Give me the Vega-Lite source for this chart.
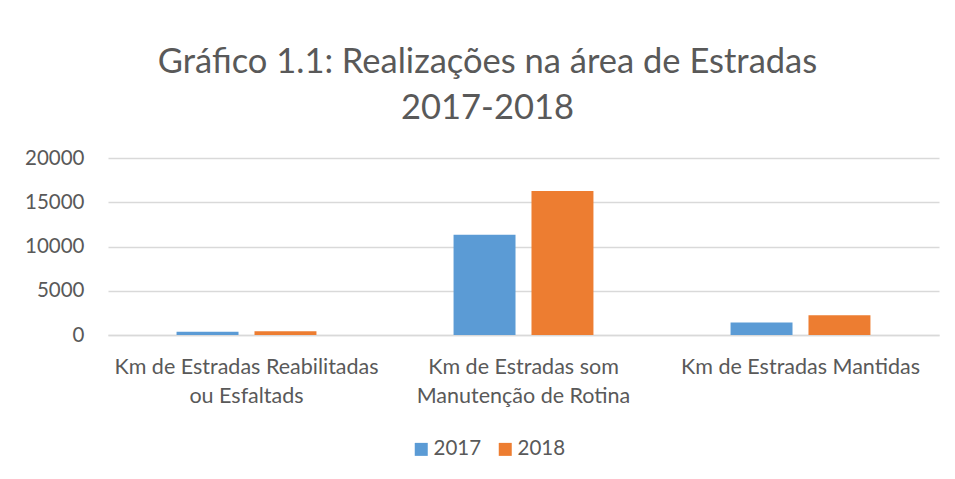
{
  "$schema": "https://vega.github.io/schema/vega-lite/v6.json",
  "autosize": "none",
  "width": 831,
  "height": 177,
  "padding": {"left": 108, "top": 158, "right": 16, "bottom": 144},
  "background": "white",
  "title": {
    "text": ["Gráfico 1.1: Realizações na área de Estradas", "2017-2018"],
    "font": "Lato",
    "fontSize": 34.5,
    "fontWeight": "normal",
    "color": "#595959",
    "anchor": "middle",
    "frame": "group",
    "dx": -36,
    "lineHeight": 46,
    "offset": 22
  },
  "data": {
    "values": [
      {"categoria": "Km de Estradas Reabilitadas ou Esfaltads", "ano": "2017", "valor": 380},
      {"categoria": "Km de Estradas Reabilitadas ou Esfaltads", "ano": "2018", "valor": 420},
      {"categoria": "Km de Estradas som Manutenção de Rotina", "ano": "2017", "valor": 11340},
      {"categoria": "Km de Estradas som Manutenção de Rotina", "ano": "2018", "valor": 16270},
      {"categoria": "Km de Estradas Mantidas", "ano": "2017", "valor": 1400},
      {"categoria": "Km de Estradas Mantidas", "ano": "2018", "valor": 2230}
    ]
  },
  "mark": {"type": "bar"},
  "encoding": {
    "x": {
      "field": "categoria",
      "type": "nominal",
      "sort": null,
      "scale": {"paddingInner": 0.495, "paddingOuter": 0.2475},
      "axis": {
        "title": null,
        "labelAngle": 0,
        "ticks": false,
        "domain": true,
        "domainColor": "#d9d9d9",
        "domainWidth": 1.5,
        "labelFont": "Lato",
        "labelFontSize": 21.5,
        "labelColor": "#595959",
        "labelPadding": 21,
        "labelLineHeight": 29,
        "labelLimit": 400,
        "labelExpr": "datum.value == 'Km de Estradas Reabilitadas ou Esfaltads' ? ['Km de Estradas Reabilitadas', 'ou Esfaltads'] : datum.value == 'Km de Estradas som Manutenção de Rotina' ? ['Km de Estradas som', 'Manutenção de Rotina'] : datum.value"
      }
    },
    "xOffset": {
      "field": "ano",
      "type": "nominal",
      "scale": {"paddingInner": 0.205, "paddingOuter": 0}
    },
    "y": {
      "field": "valor",
      "type": "quantitative",
      "scale": {"domain": [0, 20000]},
      "axis": {
        "title": null,
        "values": [0, 5000, 10000, 15000, 20000],
        "domain": false,
        "ticks": false,
        "grid": true,
        "gridColor": "#d9d9d9",
        "gridWidth": 1.5,
        "labelFont": "Lato",
        "labelFontSize": 20.5,
        "labelColor": "#595959",
        "labelPadding": 24,
        "format": "d"
      }
    },
    "color": {
      "field": "ano",
      "type": "nominal",
      "scale": {"domain": ["2017", "2018"], "range": ["#5B9BD5", "#ED7D31"]},
      "legend": {
        "title": null,
        "orient": "none",
        "direction": "horizontal",
        "legendX": 303,
        "legendY": 281,
        "symbolType": "square",
        "symbolSize": 169,
        "symbolStrokeWidth": 0,
        "symbolOpacity": 1,
        "labelFont": "Lato",
        "labelFontSize": 20.5,
        "labelColor": "#595959",
        "columnPadding": 13,
        "labelOffset": 2
      }
    }
  },
  "config": {"view": {"stroke": null}}
}
